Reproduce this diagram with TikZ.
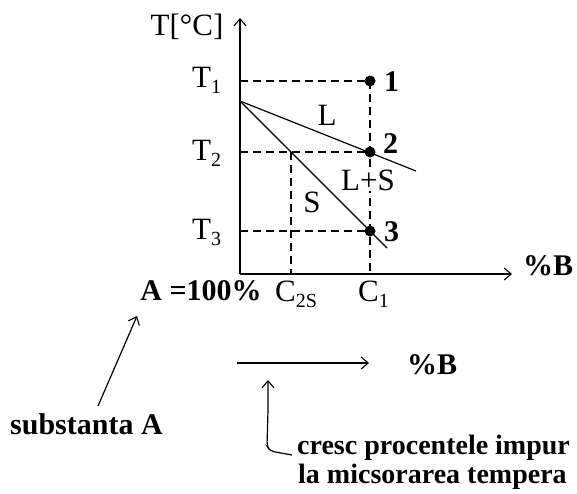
\documentclass[tikz,border=0pt]{standalone}
\usepackage{fontspec}
\setmainfont{Liberation Serif}
\usetikzlibrary{arrows.meta}
\newcommand\lowsub[1]{\raisebox{-0.22em}{\fontsize{20}{20}\selectfont #1}}
\begin{document}
\begin{tikzpicture}[x=1pt,y=-1pt,
  lbl/.style={font=\fontsize{31}{32}\selectfont, inner sep=0pt},
  blbl/.style={font=\fontsize{30}{31}\selectfont\bfseries, inner sep=0pt},
  note/.style={font=\fontsize{28}{30}\selectfont\bfseries, inner sep=0pt},
  axis/.style={line width=1.6pt},
  dashline/.style={line width=1.3pt, dash pattern=on 8pt off 5pt},
  thin/.style={line width=1.2pt},
  tip/.style={-{Straight Barb[length=7pt,width=12pt,line width=1.1pt]}},
  dot/.style={circle, fill=black, inner sep=0pt, minimum size=11pt}]
\useasboundingbox (0,0) rectangle (577,493);
\clip (0,0) rectangle (577,493);
% axes
\coordinate (O) at (240,274);
\coordinate (Ytop) at (240,18);
\coordinate (Xend) at (512,274);
\draw[axis, tip] (O) -- (Ytop);
\draw[axis, tip] (O) -- (Xend);
% points
\node[dot] (p1) at (370,81) {};
\node[dot] (p2) at (370,152) {};
\node[dot] (p3) at (370,231) {};
\coordinate (y1) at (240,81);
\coordinate (y2) at (240,152);
\coordinate (y3) at (240,231);
\coordinate (M) at (240,101);
\coordinate (c2) at (291,152);
\coordinate (c2foot) at (291,274);
\coordinate (c1foot) at (370,274);
\coordinate (liqend) at (416,171);
\coordinate (solend) at (387,248);
% dashed guides
\draw[dashline] (y1) -- (p1.center);
\draw[dashline] (y2) -- (p2.center);
\draw[dashline] (y3) -- (p3.center);
\draw[dashline] (p1.center) -- (c1foot);
\draw[dashline] (c2) -- (c2foot);
% liquidus and solidus
\draw[thin] (M) -- (liqend);
\draw[thin] (M) -- (solend);
% labels
\node[lbl, anchor=base] (Tc) at (187,35) {T[°C]};
\node[lbl, anchor=base west] (T1) at (192,87) {T\lowsub{1}};
\node[lbl, anchor=base west] (T2) at (192,160) {T\lowsub{2}};
\node[lbl, anchor=base west] (T3) at (192,239) {T\lowsub{3}};
\node[blbl, anchor=west] (n1) at (384,82) {1};
\node[blbl, anchor=west] (n2) at (383,144) {2};
\node[blbl, anchor=west] (n3) at (384,232) {3};
\node[lbl] (L) at (327,115) {L};
\node[lbl, fill=white, inner sep=1pt] (LS) at (368,180) {L+S};
\node[lbl] (S) at (312,202) {S};
\node[blbl, anchor=base] (A100) at (201,300) {A =100\%};
\node[lbl, anchor=base west] (C2S) at (275,301) {C\lowsub{2S}};
\node[lbl, anchor=base west] (C1) at (358,301) {C\lowsub{1}};
\node[blbl, anchor=base west] (pB1) at (523,275) {\%B};
% lower part
\coordinate (a1) at (237,363);
\coordinate (a2) at (369,363);
\draw[thin, tip] (a1) -- (a2);
\node[blbl, anchor=base west] (pB2) at (407,374) {\%B};
\node[blbl, anchor=base west] (subA) at (10,434) {substanta A};
\coordinate (sa1) at (98,406);
\coordinate (sa2) at (137,316);
\draw[thin, tip] (sa1) -- (sa2);
\node[note, anchor=base west] (cr1) at (297,454) {cresc procentele impur};
\node[note, anchor=base west] (cr2) at (298,483) {la micsorarea tempera};
\coordinate (k1) at (292,455);
\coordinate (k2) at (268,380);
\draw[thin, tip, rounded corners=4pt] (k1) -- (270,451) -- (267,446) -- (268,410) -- (k2);
\end{tikzpicture}
\end{document}
